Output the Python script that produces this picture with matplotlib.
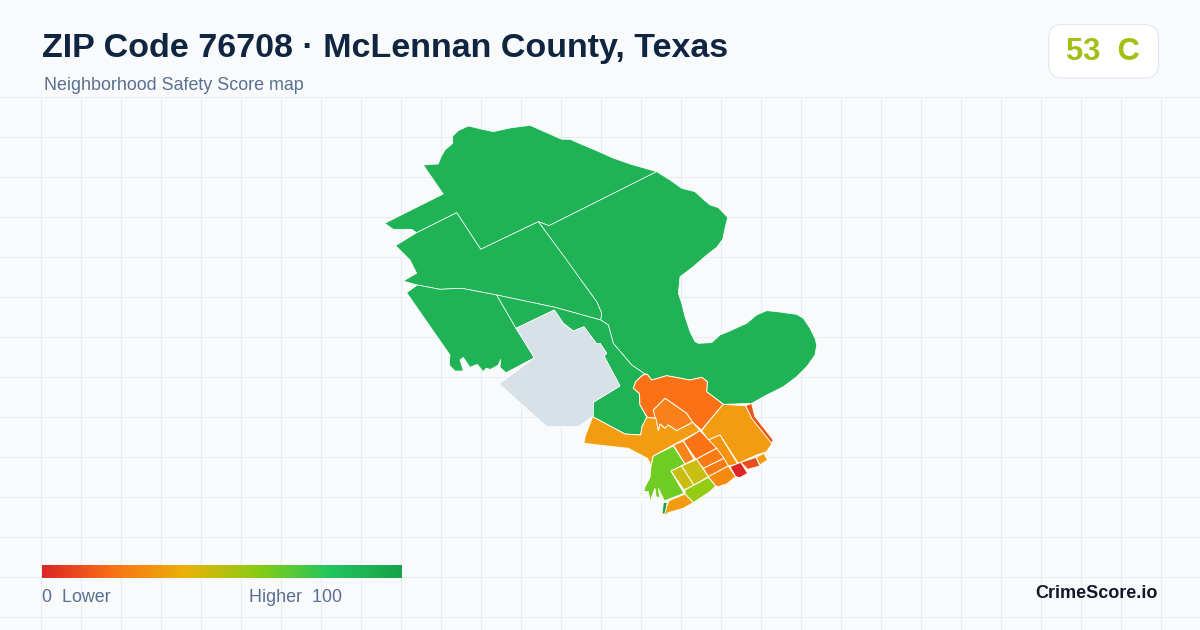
import matplotlib
matplotlib.use('Agg')
import matplotlib.pyplot as plt
import numpy as np
from matplotlib.colors import LinearSegmentedColormap, to_rgb
from matplotlib.patches import FancyBboxPatch, Polygon

plt.rcParams['font.family'] = ['Liberation Sans', 'DejaVu Sans']

title = 'ZIP Code 76708 · McLennan County, Texas'
subtitle = 'Neighborhood Safety Score map'
score_text = '53  C'
brand = 'CrimeScore.io'
legend_low = '0  Lower'
legend_high = 'Higher  100'

grad_stops = [0, 0.2, 0.4, 0.61, 0.8, 1]
grad_colors = ['#dc2626', '#f97316', '#eab308', '#84cc16', '#22c55e', '#16a34a']

GREEN = '#20b356'
GRAY = '#d8e0e8'


def from_crop(pts, ox=570, oy=360):
    return [(ox + x / 3, oy + y / 3) for x, y in pts]


# outlines, in image pixels
north = [(384.7, 223.3), (443.3, 194), (423.3, 165), (438.3, 164), (441, 157), (445, 150), (452.7, 143.3), (452.7, 136),
         (458.3, 130.7), (468.3, 126), (481, 129), (493.3, 131.7), (510, 128), (530, 125.3), (545, 132), (561.7, 139.3),
         (570, 139.3), (583, 145), (596.7, 150.7), (613, 158), (630, 164), (656.7, 171.7), (549, 225.7), (538.3, 221.7),
         (480.7, 249.3), (456.7, 212.7), (416.7, 232.7), (411.7, 229.3), (393.3, 229.3)]
northeast_crop = [(50, 35), (90, 60), (125, 85), (165, 95), (190, 118), (210, 135), (235, 143), (263, 172), (255, 205),
                  (248, 238), (230, 262), (200, 285), (160, 320), (120, 350), (115, 400), (125, 430), (135, 470),
                  (150, 515), (165, 545), (175, 550), (215, 548), (240, 525), (265, 515), (320, 490), (350, 465),
                  (380, 452), (410, 455), (470, 463), (490, 475), (510, 505), (525, 535), (530, 555), (525, 585),
                  (500, 620), (470, 650), (430, 680), (380, 705), (335, 730), (250, 733), (200, 695), (202, 665),
                  (185, 652), (150, 660), (80, 647), (35, 660), (21, 642), (15, 642), (-25, 615), (-80, 550), (-95, 495),
                  (-118, 480), (-115, 460), (-130, 425), (-170, 370), (-305, 185), (-273, 197)]
center_west = [(456.7, 212.7), (480.7, 249.3), (538.3, 221.7), (566.7, 260), (583.3, 283.3), (596.7, 301.7),
               (601.7, 313.3), (600.7, 320), (555, 307.3), (496.7, 295), (461.7, 288.3), (440, 289.3), (417.3, 285),
               (403.3, 281), (416.7, 273.3), (410, 260), (395, 245), (387.3, 250), (395, 246), (416.7, 232.7)]
southwest = [(417.3, 285), (406.7, 292.7), (450, 355), (449.3, 365), (455, 371), (463.3, 371), (460, 360),
             (463.3, 357.3), (470, 367.3), (477.3, 364.3), (483.3, 371.7), (486, 368.3), (490.7, 369.3), (498.3, 365),
             (500.7, 359.3), (500, 367.3), (506, 372.7), (534.3, 357.7), (516, 328.3), (496.7, 295), (461.7, 288.3),
             (440, 289.3)]
river_strip = [(496.7, 295), (516, 328.3), (554.3, 310), (563.3, 323.3), (573.3, 331), (584, 326.7), (596.7, 344),
               (600, 343.3), (606.7, 353.3), (604, 356), (620, 386), (593.3, 402.3), (592.7, 416.7), (625, 434),
               (640.7, 435), (642, 426.7), (646.7, 417.3), (640, 405), (639.3, 393.3), (633.3, 388.3), (635.7, 381.7),
               (642.7, 375), (645, 374), (631.7, 365), (613.3, 343.3), (608.3, 325), (600.7, 320), (555, 307.3)]
no_data = [(516, 328.3), (554.3, 310), (563.3, 323.3), (573.3, 331), (584, 326.7), (596.7, 344), (600, 343.3),
           (606.7, 353.3), (604, 356), (620, 386), (593.3, 402.3), (593.3, 416), (578.3, 426.7), (546.7, 426.7),
           (499.3, 384), (534.3, 357.7)]

green_areas = [north, from_crop(northeast_crop, 640, 160), center_west, southwest, river_strip]

crop_north_orange = [(218, 45), (232, 43), (245, 60), (290, 47), (360, 60), (395, 52), (412, 65), (410, 95), (460, 133),
                     (445, 150), (420, 180), (395, 210), (365, 185), (350, 160), (285, 115), (250, 150), (258, 175),
                     (232, 172), (210, 135), (208, 100), (190, 85), (197, 65)]
crop_inner_orange = [(285, 115), (350, 160), (368, 187), (320, 212), (295, 195), (285, 205), (270, 192), (265, 213),
                     (250, 150)]
crop_west_orange = [(68, 170), (165, 222), (212, 225), (216, 200), (230, 172), (258, 175), (265, 213), (270, 192),
                    (285, 205), (295, 195), (320, 212), (368, 187), (390, 212), (310, 255), (250, 288), (243, 315),
                    (232, 295), (175, 265), (110, 258), (42, 250), (45, 230)]
crop_east_orange = [(460, 133), (527, 137), (545, 170), (610, 245), (590, 275), (560, 285), (505, 310), (450, 225),
                    (415, 240), (395, 212), (420, 180), (445, 150)]
crop_east_stripe = [(527, 137), (545, 130), (555, 170), (610, 240), (605, 250), (545, 175)]
crop_strip = [(415, 240), (450, 225), (503, 312), (475, 318)]
crop_block_a = [(310, 255), (340, 243), (372, 298), (345, 312)]
crop_block_b = [(340, 243), (390, 212), (440, 265), (378, 298)]
crop_block_c = [(378, 298), (440, 265), (462, 295), (400, 325)]
crop_block_d = [(400, 325), (462, 295), (475, 318), (415, 350)]
crop_block_e = [(415, 350), (475, 318), (497, 350), (470, 372), (445, 380), (437, 378)]
crop_red = [(480, 320), (512, 307), (533, 340), (510, 353), (497, 350)]
crop_red_orange = [(512, 307), (558, 292), (570, 318), (533, 328)]
crop_small_orange = [(558, 292), (582, 280), (593, 300), (570, 315)]
crop_lime = [(243, 318), (250, 288), (310, 258), (345, 312), (303, 333), (342, 400), (283, 423), (265, 385), (270, 415),
             (258, 410), (255, 385), (240, 425), (235, 395), (222, 395), (213, 425), (225, 380), (240, 352)]
crop_olive_a = [(303, 333), (335, 318), (372, 375), (342, 390)]
crop_olive_b = [(335, 318), (380, 298), (415, 350), (372, 375)]
crop_yellow_green = [(345, 390), (415, 352), (437, 378), (420, 395), (370, 428), (345, 402)]
crop_south_orange = [(345, 402), (370, 428), (340, 445), (295, 458), (285, 468), (283, 455), (297, 422)]
crop_sliver = [(280, 427), (292, 427), (285, 462), (276, 462)]

blocks = [crop_north_orange, crop_inner_orange, crop_west_orange, crop_east_orange, crop_east_stripe, crop_strip,
          crop_block_a, crop_block_b, crop_block_c, crop_block_d, crop_block_e, crop_red, crop_red_orange,
          crop_small_orange, crop_lime, crop_olive_a, crop_olive_b, crop_yellow_green, crop_south_orange, crop_sliver]
block_colors = ['#fb7115', '#f9811a', '#f39c12', '#f39c12', '#e8551f', '#f3930f',
                '#f68419', '#f97316', '#f97b16', '#f97b16', '#f58a10', '#dc2626', '#e84e1e',
                '#f39c12', '#6fcc22', '#c8bd10', '#c8bf10', '#93cc12', '#f39c12', '#16a34a']

fig = plt.figure(figsize=(12, 6.3), dpi=100, facecolor='#f8fafc')
ax = fig.add_axes([0, 0, 1, 1])
ax.set_facecolor('#f8fafc')
ax.axis('off')

# background grid
for gx in np.arange(40.5, 1200, 40):
    ax.plot([gx, gx], [96.5, 630], color='#e7eef3', lw=0.8, zorder=1)
for gy in np.arange(96.5, 630, 40):
    ax.plot([0, 1200], [gy, gy], color='#e7eef3', lw=0.8, zorder=1)

# map
for area in green_areas:
    ax.add_patch(Polygon(area, closed=True, fc=GREEN, ec='white', lw=0.5, zorder=2))
ax.add_patch(Polygon(no_data, closed=True, fc=GRAY, ec='white', lw=0.5, zorder=3))
for pts, col in zip(blocks, block_colors):
    ax.add_patch(Polygon(from_crop(pts), closed=True, fc=col, ec='#fffdf0', lw=0.7, zorder=4))

# title
ax.text(42, 48, title, fontsize=24.45, fontweight='bold', color='#0f2540', va='center', ha='left', zorder=6)
ax.text(44, 85.5, subtitle, fontsize=12.9, color='#5a7090', va='center', ha='left', zorder=6)

# score badge
ax.add_patch(FancyBboxPatch((1048.5, 24.5), 110, 53.5, boxstyle='round,pad=0,rounding_size=14', fc='white',
                            ec='#e2e8f0', lw=0.8, zorder=5))
ax.text(1103, 52, score_text, fontsize=22.2, fontweight='bold', color='#a3bf13', va='center', ha='center', zorder=6)

# legend gradient
cmap = LinearSegmentedColormap.from_list('score', [(p, to_rgb(c)) for p, c in zip(grad_stops, grad_colors)])
ax.imshow(np.linspace(0, 1, 360).reshape(1, -1), cmap=cmap, extent=(42, 402, 578, 565), aspect='auto', zorder=5)
ax.set_xlim(0, 1200)
ax.set_ylim(630, 0)
ax.text(42, 597.5, legend_low, fontsize=12.9, color='#5a7090', va='center', ha='left', zorder=6)
ax.text(249, 597.5, legend_high, fontsize=12.9, color='#5a7090', va='center', ha='left', zorder=6)
ax.text(1158, 593, brand, fontsize=13, fontweight='bold', color='#111827', va='center', ha='right', zorder=6)

fig.savefig('out.png', dpi=100, facecolor=fig.get_facecolor())
